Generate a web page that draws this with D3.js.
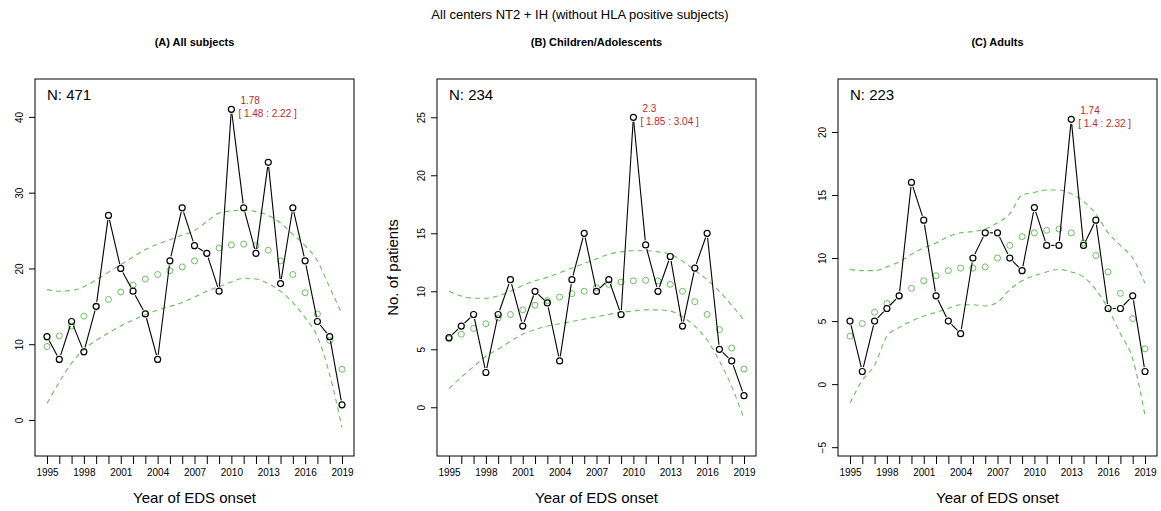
<!DOCTYPE html>
<html><head><meta charset="utf-8">
<script src="https://cdn.jsdelivr.net/npm/d3@7"></script>
<style>body{margin:0;background:#fff}text{font-family:"Liberation Sans",Arial,sans-serif}</style>
</head><body><svg id="c" width="1161" height="511"></svg>
<script>
const years = d3.range(1995, 2020);
const xTickLabels = [1995,1998,2001,2004,2007,2010,2013,2016,2019];
const panelTitles = ["(A) All subjects","(B) Children/Adolescents","(C) Adults"];
const nLabels = ["N: 471","N: 234","N: 223"];
const countsA = [11,8,13,9,15,27,20,17,14,8,21,28,23,22,17,41,28,22,34,18,28,21,13,11,2];
const countsB = [6,7,8,3,8,11,7,10,9,4,11,15,10,11,8,25,14,10,13,7,12,15,5,4,1];
const countsC = [5,1,5,6,7,16,13,7,5,4,10,12,12,10,9,14,11,11,21,11,13,6,6,7,1];
const fitA = [9.7,11.1,12.4,13.7,14.9,15.9,16.9,17.8,18.6,19.2,19.7,20.2,21,22,22.7,23.1,23.2,23,22.4,21,19.2,16.8,14,10.5,6.7];
const fitB = [5.9,6.3,6.8,7.2,7.7,8.0,8.4,8.8,9.2,9.5,9.8,10.0,10.3,10.6,10.8,10.9,10.95,10.9,10.6,10.0,9.1,8.0,6.7,5.1,3.3];
const fitC = [3.8,4.8,5.7,6.4,7.0,7.6,8.2,8.6,9.0,9.2,9.2,9.3,10.0,11.0,11.7,12.0,12.2,12.3,12.0,11.2,10.2,8.9,7.2,5.2,2.8];
const upA = [17.2,17.0,17.1,17.6,18.5,19.5,20.5,21.5,22.5,23.2,23.8,24.4,25.0,26.2,27.3,27.6,27.7,27.5,27.0,26.0,24.5,23.0,21.0,17.5,14.0];
const loA = [2.2,5.0,7.5,9.3,10.5,11.5,12.4,13.2,13.9,14.5,15.0,15.5,16.2,17.0,17.6,18.2,18.7,18.6,18.0,17.0,15.5,13.5,11.0,6.0,-1.0];
const upB = [10.0,9.6,9.4,9.4,9.6,10.0,10.5,10.9,11.2,11.6,12.0,12.4,12.8,13.2,13.4,13.5,13.5,13.4,13.2,12.6,11.8,11.0,10.0,8.8,7.5];
const loB = [1.6,2.6,3.5,4.4,5.0,5.7,6.3,6.7,7.0,7.2,7.4,7.6,7.8,8.0,8.2,8.3,8.4,8.4,8.3,7.8,7.0,5.8,4.0,1.8,-1.0];
const upC = [9.1,9.0,9.0,9.3,9.7,10.3,10.8,11.2,11.7,12.0,12.1,12.3,12.8,13.5,15.0,15.2,15.4,15.4,15.1,14.5,13.5,12.0,11.0,10.0,8.0];
const loC = [-1.5,0.3,1.5,3.8,4.5,5.0,5.4,5.7,6.0,6.3,6.3,6.2,6.5,7.5,8.2,8.6,8.9,9.1,8.9,8.5,7.5,6.0,4.0,2.0,-2.5];
const yTicksA = [0,10,20,30,40], yTicksB = [0,5,10,15,20,25], yTicksC = [-5,0,5,10,15,20];
const peakYear = [2010,2010,2013];
const peakLabels = [["1.78","[ 1.48 : 2.22 ]"],["2.3","[ 1.85 : 3.04 ]"],["1.74","[ 1.4 : 2.32 ]"]];

const panels = [
 {x0:35,x1:354,yd:[-4.75,45],counts:countsA,fit:fitA,up:upA,lo:loA,ticks:yTicksA},
 {x0:437,x1:756,yd:[-4.2,28.3],counts:countsB,fit:fitB,up:upB,lo:loB,ticks:yTicksB},
 {x0:838,x1:1157,yd:[-5.7,24.2],counts:countsC,fit:fitC,up:upC,lo:loC,ticks:yTicksC}
];
const svg = d3.select("#c");
const GREEN = "#6abf5e";
svg.append("text").attr("x",580).attr("y",19).attr("text-anchor","middle").attr("font-size",13).text("All centers NT2 + IH (without HLA positive subjects)");
const pTop=79,pBot=456;
panels.forEach((p,i)=>{
  const g = svg.append("g");
  const x = d3.scaleLinear().domain([1995,2019]).range([p.x0+12,p.x1-12]);
  const y = d3.scaleLinear().domain(p.yd).range([pBot,pTop]);
  g.append("text").attr("x",(p.x0+p.x1)/2).attr("y",46).attr("text-anchor","middle").attr("font-size",11).attr("font-weight","bold").text(panelTitles[i]);
  g.append("rect").attr("x",p.x0).attr("y",pTop).attr("width",p.x1-p.x0).attr("height",pBot-pTop).attr("fill","none").attr("stroke","#000");
  const xa = g.append("g").attr("transform",`translate(0,${pBot})`).call(d3.axisBottom(x).tickValues(years).tickSize(8).tickFormat(d=>xTickLabels.includes(d)?d:""));
  xa.select(".domain").remove();
  xa.selectAll("text").attr("font-size",10).attr("dy","0.9em").style("font-family","Liberation Sans, Arial");
  const ya = g.append("g").attr("transform",`translate(${p.x0},0)`).call(d3.axisLeft(y).tickValues(p.ticks).tickSize(6).tickFormat(d3.format("d")));
  ya.select(".domain").remove();
  ya.selectAll(".tick text").attr("x",0).attr("y",0).attr("dy","0").attr("text-anchor","middle")
    .attr("transform","translate(-12,0) rotate(-90)").attr("font-size",10).style("font-family","Liberation Sans, Arial");
  g.append("text").attr("x",(p.x0+p.x1)/2).attr("y",503).attr("text-anchor","middle").attr("font-size",15).text("Year of EDS onset");
  if(i===1) g.append("text").attr("transform",`translate(398,${(pTop+pBot)/2}) rotate(-90)`).attr("text-anchor","middle").attr("font-size",15).text("No. of patients");
  g.append("text").attr("x",p.x0+12).attr("y",pTop+21).attr("font-size",15).text(nLabels[i]);
  ["up","lo"].forEach(k=>{
    g.append("path").attr("d",d3.line().x((d,j)=>x(years[j])).y(d=>y(d)).curve(d3.curveMonotoneX)(p[k]))
     .attr("fill","none").attr("stroke",GREEN).attr("stroke-width",1.1).attr("stroke-dasharray","5,4");
  });
  g.selectAll(".fp").data(p.fit).enter().append("circle").attr("cx",(d,j)=>x(years[j])).attr("cy",d=>y(d)).attr("r",3)
    .attr("fill","none").attr("stroke",GREEN).attr("stroke-width",1);
  const pts = p.counts.map((v,j)=>[x(years[j]),y(v)]);
  for(let j=0;j<pts.length-1;j++){
    const [ax,ay]=pts[j],[bx,by]=pts[j+1];
    const L=Math.hypot(bx-ax,by-ay), gap=4.5;
    if(L<=2*gap) continue;
    const ux=(bx-ax)/L, uy=(by-ay)/L;
    g.append("line").attr("x1",ax+ux*gap).attr("y1",ay+uy*gap).attr("x2",bx-ux*gap).attr("y2",by-uy*gap).attr("stroke","#000").attr("stroke-width",1.1);
  }
  g.selectAll(".bp").data(p.counts).enter().append("circle").attr("cx",(d,j)=>x(years[j])).attr("cy",d=>y(d)).attr("r",3)
    .attr("fill","none").attr("stroke","#000").attr("stroke-width",1.2);
  const pj = years.indexOf(peakYear[i]);
  const px = x(peakYear[i])+7, py = y(p.counts[pj]);
  g.append("text").attr("x",px+2).attr("y",py-5).attr("font-size",10).attr("fill","#c0282d").text(peakLabels[i][0]);
  g.append("text").attr("x",px).attr("y",py+8).attr("font-size",10).attr("fill","#c0282d").text(peakLabels[i][1]);
});
</script></body></html>
